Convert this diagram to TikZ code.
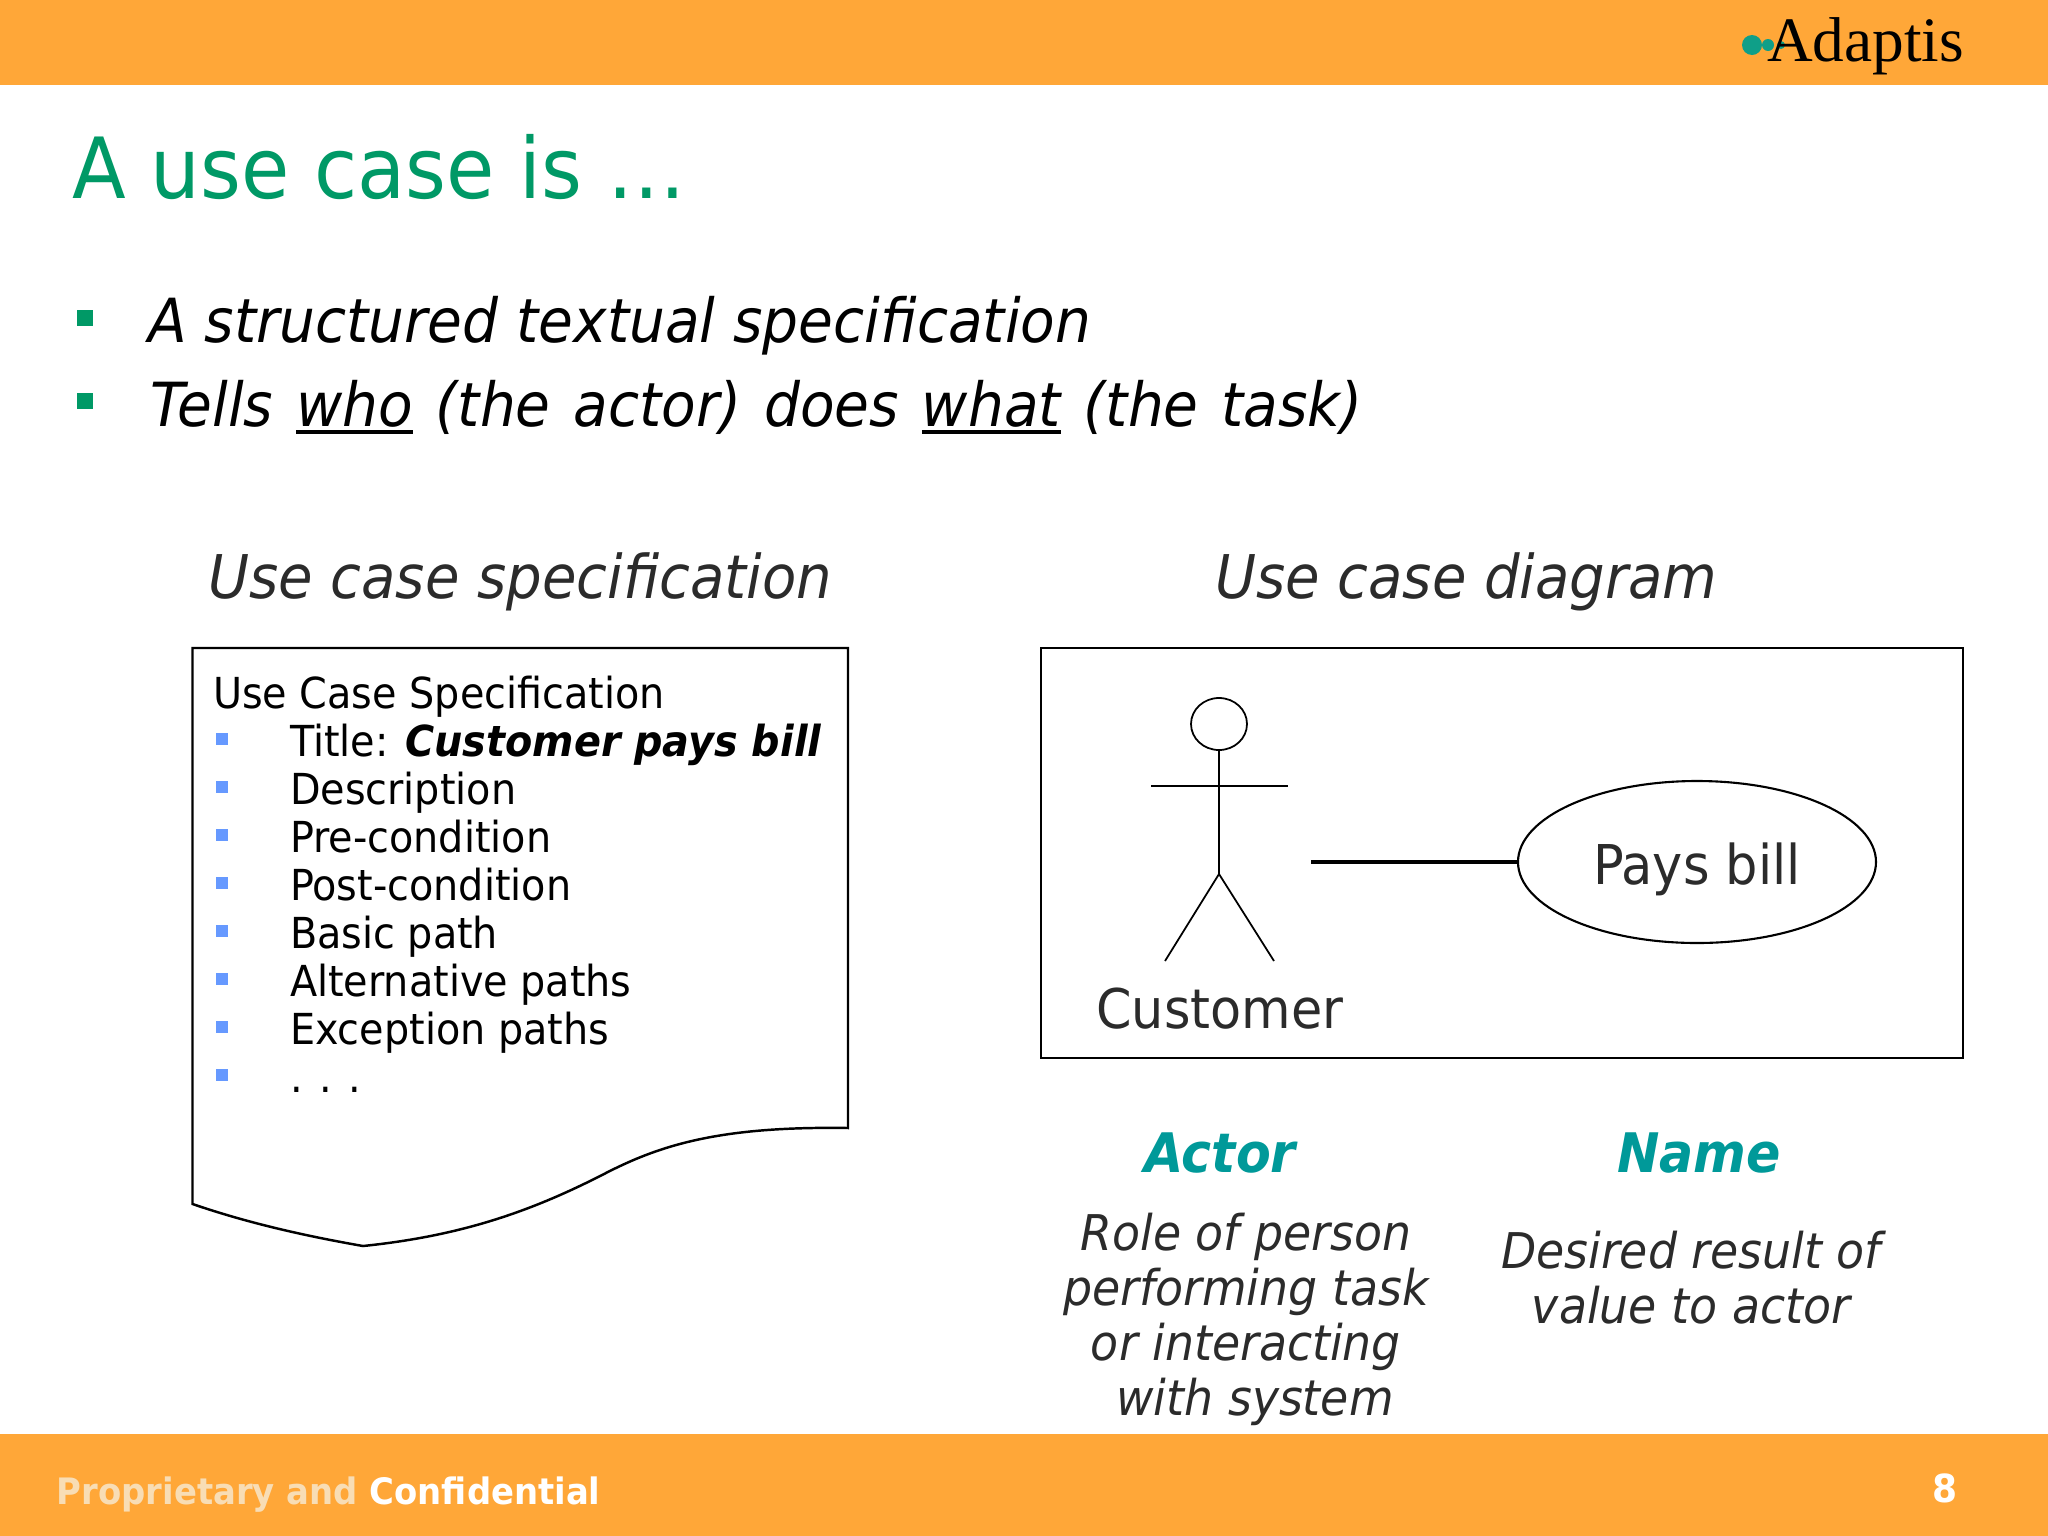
\documentclass[tikz,border=0pt]{standalone}
\usepackage{fontspec}
\setmainfont{DejaVu Sans}[FakeStretch=0.93]
\newfontfamily\logofont{Liberation Serif}
\usetikzlibrary{shapes.geometric}
\definecolor{bandorange}{HTML}{FFA738}
\definecolor{slidegreen}{HTML}{009966}
\definecolor{slideteal}{HTML}{009999}
\definecolor{logoteal}{HTML}{0F9F88}
\definecolor{inkgray}{HTML}{2B2B2B}
\definecolor{itemblue}{HTML}{6699FF}
\definecolor{fadedtext}{HTML}{F8DDB5}
\newcommand{\ulword}[1]{\setbox0=\hbox{#1}\rlap{\rule[-0.13em]{\wd0}{0.06em}}#1}
\tikzset{
  txt/.style={anchor=base west,inner sep=0pt,outer sep=0pt},
  mid/.style={anchor=base,inner sep=0pt,outer sep=0pt},
  bullettxt/.style={txt,font=\itshape\fontsize{17.3}{20}\selectfont},
  headtxt/.style={txt,text=inkgray,font=\itshape\fontsize{17.15}{20}\selectfont},
  itemtxt/.style={txt,font=\fontsize{12.15}{15}\selectfont},
  desctxt/.style={mid,text=inkgray,align=center,font=\itshape\fontsize{14}{15.6}\selectfont},
  capttxt/.style={mid,text=slideteal,font=\bfseries\itshape\fontsize{15.5}{18}\selectfont},
}

\begin{document}
\begin{tikzpicture}[x=0.01cm,y=-0.01cm]
  \useasboundingbox (0,0) rectangle (2048,1536);
  \fill[white] (0,0) rectangle (2048,1536);
  \fill[bandorange] (0,0) rectangle (2048,85);
  \fill[bandorange] (0,1434) rectangle (2048,1536);

  % logo
  \fill[logoteal] (1752,45) circle (10);
  \fill[logoteal] (1768,45) circle (6);
  \fill[logoteal] (1781,45) circle (4);
  \node[txt,font=\logofont\fontsize{18}{20}\selectfont] (logo) at (1767,61) {Adaptis};

  \node[txt,text=slidegreen,font=\fontsize{24}{28}\selectfont] (title) at (72,198) {A use case is …};

  \foreach \y in {318,401} {
    \fill[slidegreen] (77,\y-8) rectangle (93,\y+8);
  }
  \node[bullettxt] (who) at (148,342) {A structured textual specification};
  \node[bullettxt] (what) at (150,426) {\spaceskip=6.5pt Tells \ulword{who} (the actor) does \ulword{what} (the task)};

  \node[headtxt] (spechead) at (208,598) {Use case specification};
  \node[headtxt] (diaghead) at (1215,598) {Use case diagram};

  % document shape
  \draw[line width=0.7pt] (192.5,648) -- (848,648) -- (848,1128)
    .. controls (720,1126) and (660,1145) .. (604,1174)
    .. controls (530,1212) and (460,1236) .. (363,1246)
    .. controls (300,1235) and (245,1222) .. (192.5,1204) -- cycle;

  \node[itemtxt] (spectitle) at (213,708.5) {Use Case Specification};
  \foreach \n/\lbl in {
    1/Title: \textbf{\textit{Customer pays bill}},
    2/Description,
    3/Pre-condition,
    4/Post-condition,
    5/Basic path,
    6/Alternative paths,
    7/Exception paths,
    8/. . .
  } {
    \fill[itemblue] (216,685+48*\n) rectangle (228,697+48*\n);
    \node[itemtxt] (item\n) at (290,708.5+48*\n) {\lbl};
  }

  % diagram
  \draw[line width=0.7pt] (1041,648) rectangle (1963,1058);
  \node[ellipse,draw,line width=0.5pt,minimum width=56*0.01cm,minimum height=52*0.01cm,inner sep=0pt] (head) at (1219,724) {};
  \coordinate (hip) at (1219,874);
  \coordinate (armL) at (1151,786);
  \coordinate (armR) at (1288,786);
  \coordinate (footL) at (1165,961);
  \coordinate (footR) at (1274,961);
  \coordinate (assoc) at (1311,862);
  \draw[line width=0.5pt] (head) -- (hip);
  \draw[line width=0.5pt] (armL) -- (armR);
  \draw[line width=0.5pt] (footL) -- (hip) -- (footR);
  \node[mid,text=inkgray,font=\fontsize{15.55}{18}\selectfont] (customer) at (1220,1028) {Customer};
  \node[ellipse,draw,line width=0.6pt,text=inkgray,text depth=0pt,minimum width=358*0.01cm,minimum height=162*0.01cm,inner sep=0pt,font=\fontsize{15.6}{18}\selectfont] (paysbill) at (1697,862) {\raisebox{-0.7pt}{Pays bill}};
  \draw[line width=1.2pt] (assoc) -- (paysbill.west);

  \node[capttxt] (actor) at (1220,1172) {Actor};
  \node[capttxt] (name) at (1699,1172) {Name};
  \node[desctxt] (actordesc) at (1246,1415) {Role of person\\performing task\\or interacting\\\hspace*{0.37em}with system};
  \node[desctxt] (namedesc) at (1691,1323) {Desired result of\\value to actor};

  % footer
  \node[txt,font=\bfseries\fontsize{10.35}{12}\selectfont] (footer) at (57,1504) {\textcolor{fadedtext}{Proprietary and} \textcolor{white}{Confidential}};
  \node[mid,text=white,font=\bfseries\fontsize{11}{13}\selectfont] (pageno) at (1945,1502) {8};
\end{tikzpicture}
\end{document}
